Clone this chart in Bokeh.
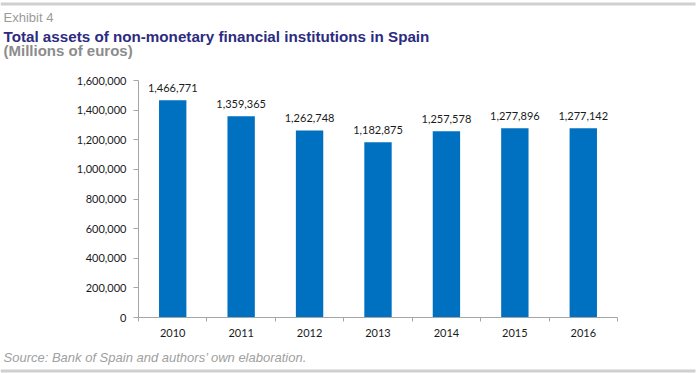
from bokeh.plotting import figure
from bokeh.layouts import column
from bokeh.models import FixedTicker, NumeralTickFormatter, Range1d, ColumnDataSource
from bokeh.core.properties import value
from bokeh.embed import file_html
from bokeh.resources import INLINE

# ---- data ----
years = ["2010", "2011", "2012", "2013", "2014", "2015", "2016"]
assets = [1466771, 1359365, 1262748, 1182875, 1257578, 1277896, 1277142]
y_ticks = [0, 200000, 400000, 600000, 800000, 1000000, 1200000, 1400000, 1600000]

exhibit = "Exhibit 4"
title = "Total assets of non-monetary financial institutions in Spain"
subtitle = "(Millions of euros)"
source = "Source: Bank of Spain and authors\u2019 own elaboration."

# ---- layout (pixels) ----
W = 696
H_HEAD, H_CHART, H_FOOT = 66, 282, 25
FL, FR = 138, 617           # frame left/right
FT, FB = 14, 251            # frame top/bottom inside chart figure
n = len(years)

TEXT_FONT = "Liberation Sans"
TICK_FONT = "Lato"
axis_color = "#a6a6a6"
sep_color = "#d0d0d0"


def panel(h):
    f = figure(width=W, height=h, output_backend="svg", toolbar_location=None,
               x_range=Range1d(0, W), y_range=Range1d(h, 0),
               x_axis_type=None, y_axis_type=None,
               min_border=0, min_border_left=0, min_border_right=0,
               min_border_top=0, min_border_bottom=0)
    f.frame_align = False
    f.outline_line_color = None
    f.xgrid.grid_line_color = None
    f.ygrid.grid_line_color = None
    f.background_fill_color = "white"
    f.border_fill_color = "white"
    return f


# header
head = panel(H_HEAD)
head.quad(left=[0], right=[695], top=[2], bottom=[5], fill_color=sep_color, line_color=None)
head.text(x=[3], y=[17], text=[exhibit], text_font=value(TEXT_FONT), text_font_size="13px",
          text_color="#9a9a9a", text_baseline="alphabetic")
head.text(x=[3], y=[36], text=[title], text_font=value(TEXT_FONT), text_font_size="15.2px",
          text_font_style="bold", text_color="#2c2b80", text_baseline="alphabetic")
head.text(x=[3], y=[50], text=[subtitle], text_font=value(TEXT_FONT), text_font_size="15px",
          text_font_style="bold", text_color="#8c8c8c", text_baseline="alphabetic")

# chart
x_pos = [i + 0.5 for i in range(n)]
src = ColumnDataSource(dict(x=x_pos, top=assets, label=[f"{v:,}" for v in assets]))

p = figure(width=W, height=H_CHART, output_backend="svg", toolbar_location=None,
           x_range=Range1d(0, n), y_range=Range1d(0, y_ticks[-1]),
           min_border_left=FL, min_border_right=W - FR,
           min_border_top=FT, min_border_bottom=H_CHART - FB)
p.frame_align = False
p.outline_line_color = None
p.xgrid.grid_line_color = None
p.ygrid.grid_line_color = None
p.background_fill_color = "white"
p.border_fill_color = "white"

p.vbar(x="x", top="top", width=0.4, source=src, fill_color="#0070C0", line_color=None)
p.text(x="x", y="top", text="label", source=src, text_align="center",
       text_baseline="alphabetic", y_offset=-12, text_font=value(TICK_FONT),
       text_font_size="11px", text_color="#1a1a1a")

xa = p.xaxis[0]
xa.ticker = FixedTicker(ticks=x_pos, minor_ticks=list(range(n + 1)))
xa.major_label_overrides = {x: y for x, y in zip(x_pos, years)}
xa.major_tick_in = 0
xa.major_tick_out = 0
xa.minor_tick_in = 0
xa.minor_tick_out = 4
xa.minor_tick_line_color = axis_color
xa.axis_line_color = axis_color
xa.major_label_standoff = 7
xa.major_label_text_font = TICK_FONT
xa.major_label_text_font_size = "11px"
xa.major_label_text_color = "#1a1a1a"

ya = p.yaxis[0]
ya.ticker = FixedTicker(ticks=y_ticks, minor_ticks=[])
ya.formatter = NumeralTickFormatter(format="0,0")
ya.major_tick_in = 0
ya.major_tick_out = 5
ya.major_tick_line_color = axis_color
ya.axis_line_color = axis_color
ya.major_label_standoff = 7
ya.major_label_text_font = TICK_FONT
ya.major_label_text_font_size = "11px"
ya.major_label_text_color = "#1a1a1a"

# footer
foot = panel(H_FOOT)
foot.text(x=[3], y=[9], text=[source], text_font=value(TEXT_FONT), text_font_size="13px",
          text_font_style="italic", text_color="#a0a0a0", text_baseline="alphabetic")
foot.quad(left=[0], right=[695], top=[21], bottom=[24], fill_color=sep_color, line_color=None)

layout = column(head, p, foot, spacing=0)
layout.margin = (0, -16, -16, 0)

open("out.html", "w").write(file_html(layout, INLINE))
